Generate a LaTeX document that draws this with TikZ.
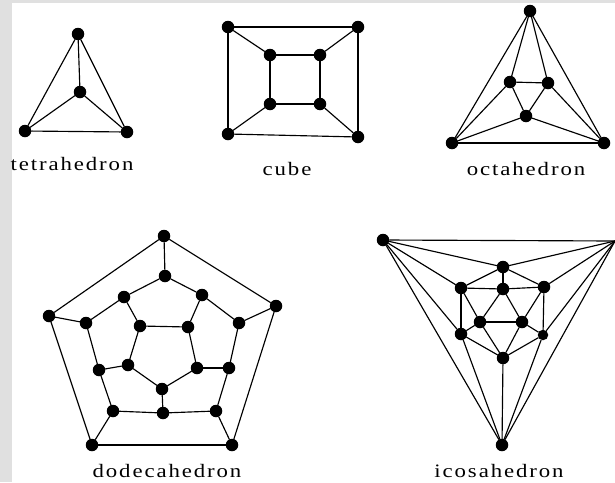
\documentclass[tikz,border=0pt]{standalone}
\usepackage{fontspec}
\newfontfamily\labfont[LetterSpace=10,FakeStretch=1.2]{Liberation Serif}
\tikzset{
  vtx/.style={circle,fill=black,draw=none,minimum size=12.5pt,inner sep=0pt,outer sep=0pt},
  vsm/.style={vtx,minimum size=10.5pt},
  edg/.style={draw=black,line width=1.15pt},
  lab/.style={inner sep=0pt,font=\labfont\fontsize{19pt}{20pt}\selectfont,text=black}
}
\begin{document}
\begin{tikzpicture}[x=1pt,y=-1pt]
\path[use as bounding box,fill=black!12] (0,0) rectangle (615,482);
\fill[white] (12,3) rectangle (615,482);
% tetrahedron
\node[vtx] (ta) at (78,34) {};
\node[vtx] (tb) at (80,92) {};
\node[vtx] (tc) at (25,131) {};
\node[vtx] (td) at (127,132) {};
\foreach \p/\q in {ta/tb,ta/tc,ta/td,tb/tc,tb/td,tc/td} \draw[edg] (\p)--(\q);
\node[lab] (tl) at (72,164) {tetrahedron};
% cube
\node[vtx] (ca) at (228,27) {};
\node[vtx] (cb) at (358,27) {};
\node[vtx] (cc) at (228,134) {};
\node[vtx] (cd) at (358,137) {};
\node[vtx] (ce) at (270,55) {};
\node[vtx] (cf) at (320,55) {};
\node[vtx] (cg) at (270,104) {};
\node[vtx] (ch) at (320,104) {};
\foreach \p/\q in {ca/cb,cb/cd,cd/cc,cc/ca,ce/cf,cf/ch,ch/cg,cg/ce,ca/ce,cb/cf,cc/cg,cd/ch} \draw[edg] (\p)--(\q);
\node[lab] (cl) at (287,169) {cube};
% octahedron
\node[vtx] (oa) at (530,11) {};
\node[vtx] (ob) at (452,143) {};
\node[vtx] (oc) at (604,143) {};
\node[vtx] (od) at (510,82) {};
\node[vtx] (oe) at (548,83) {};
\node[vtx] (of) at (526,116) {};
\foreach \p/\q in {oa/ob,oa/oc,ob/oc,oa/od,oa/oe,od/oe,od/of,oe/of,ob/od,oc/oe,ob/of,oc/of} \draw[edg] (\p)--(\q);
\node[lab] (ol) at (526,169) {octahedron};
% dodecahedron
\node[vtx] (da) at (164,236) {};
\node[vtx] (db) at (49,316) {};
\node[vtx] (dc) at (276,306) {};
\node[vtx] (dd) at (92,445) {};
\node[vtx] (de) at (232,445) {};
\node[vtx] (df) at (165,276) {};
\node[vtx] (dg) at (124,297) {};
\node[vtx] (dh) at (202,295) {};
\node[vtx] (di) at (86,323) {};
\node[vtx] (dj) at (239,323) {};
\node[vtx] (dk) at (99,370) {};
\node[vtx] (dl) at (229,368) {};
\node[vtx] (dm) at (113,411) {};
\node[vtx] (dn) at (216,411) {};
\node[vtx] (do) at (163,413) {};
\node[vtx] (dp) at (140,326) {};
\node[vtx] (dq) at (188,327) {};
\node[vtx] (dr) at (128,365) {};
\node[vtx] (ds) at (197,368) {};
\node[vtx] (dt) at (162,389) {};
\foreach \p/\q in {da/db,da/dc,db/dd,dc/de,dd/de,da/df,db/di,dc/dj,dd/dm,de/dn,df/dg,df/dh,dg/di,dh/dj,di/dk,dj/dl,dk/dm,dl/dn,dm/do,do/dn,dg/dp,dh/dq,dk/dr,dl/ds,do/dt,dp/dq,dq/ds,ds/dt,dt/dr,dr/dp} \draw[edg] (\p)--(\q);
\node[lab] (dlab) at (167,471) {dodecahedron};
% icosahedron
\node[vtx] (ia) at (383,240) {};
\coordinate (ib) at (615,241);
\node[vtx] (ic) at (502,445) {};
\node[vtx] (ip) at (503,267) {};
\node[vtx] (iq) at (461,288) {};
\node[vtx] (ir) at (544,287) {};
\node[vtx] (is) at (503,289) {};
\node[vtx] (it) at (480,322) {};
\node[vtx] (iu) at (522,322) {};
\node[vtx] (iv) at (461,334) {};
\node[vsm] (iw) at (543,335) {};
\node[vtx] (ix) at (503,358) {};
\foreach \p/\q in {ia/ib,ia/ip,ib/ip,ia/iq,ib/ir,ia/iv,ib/iw,ia/ic,ib/ic,iv/ic,iw/ic,ix/ic,ip/iq,ip/ir,ip/is,iq/is,is/ir,iq/iv,ir/iw,iq/it,is/it,is/iu,ir/iu,it/iu,it/iv,it/ix,iu/ix,iu/iw,iv/ix,iw/ix} \draw[edg] (\p)--(\q);
\node[lab] (il) at (499,471) {icosahedron};
\end{tikzpicture}
\end{document}
